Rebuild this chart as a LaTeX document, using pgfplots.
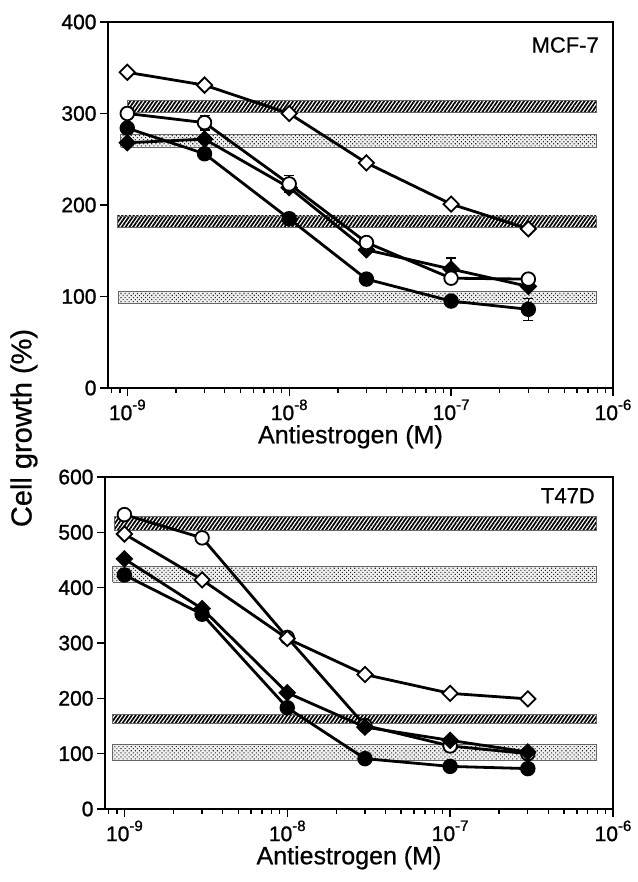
\documentclass[border=0pt]{standalone}
\usepackage{fontspec}
\setmainfont{Liberation Sans}[FakeBold=0.6]
\newfontfamily\tickfont{Liberation Sans}[FakeBold=1.2]
\usepackage{pgfplots}
\pgfplotsset{compat=1.18}
\usetikzlibrary{patterns.meta}

% bands
\tikzset{
  hatchband/.style={draw=black!60, line width=0.9pt,
    pattern={Lines[angle=55,distance=3.1pt,line width=1.7pt]}, pattern color=black},
  dotband/.style={draw=black!60, line width=0.9pt,
    preaction={fill=black!6},
    pattern={Dots[distance=2.9pt,angle=45,radius=0.75pt]}, pattern color=black!85},
}
\newcommand{\tl}[1]{10\raisebox{0.48em}{\fontsize{15}{15}\selectfont -#1}}

\pgfplotsset{
  every axis/.append style={
    scale only axis, xmode=log,
    xmin=7.6e-10, xmax=1e-6,
    xtick={1e-9,1e-8,1e-7,1e-6},
    xticklabels={\tl{9},\tl{8},\tl{7},\tl{6}},
    minor xtick={8e-10,9e-10,2e-9,3e-9,4e-9,5e-9,6e-9,7e-9,8e-9,9e-9,
                 2e-8,3e-8,4e-8,5e-8,6e-8,7e-8,8e-8,9e-8,
                 2e-7,3e-7,4e-7,5e-7,6e-7,7e-7,8e-7,9e-7},
    tick align=outside, xtick pos=bottom, ytick pos=left,
    major tick length=8pt, minor tick length=5pt,
    every tick/.style={black, line width=1.3pt},
    axis line style={line width=1.5pt},
    ticklabel style={font=\tickfont\fontsize{21}{25}\selectfont},
    /pgf/number format/assume math mode=true,
    xlabel={Antiestrogen (M)},
    xlabel style={font=\fontsize{25}{30}\selectfont, yshift=2pt, xshift=-10pt},
  },
}
\tikzset{
  fc/.style={black, line width=2.8pt, mark=*, mark size=6.8pt,
    mark options={solid, line width=1.8pt, fill=black}},
  oc/.style={black, line width=2.8pt, mark=*, mark size=6.8pt,
    mark options={solid, line width=1.8pt, fill=white}},
  fd/.style={black, line width=2.8pt, mark=square*, mark size=5.4pt,
    mark options={solid, line width=1.8pt, fill=black, rotate=45}},
  od/.style={black, line width=2.8pt, mark=square*, mark size=5.4pt,
    mark options={solid, line width=1.8pt, fill=white, rotate=45}},
}

\begin{document}
\begin{tikzpicture}
\useasboundingbox (0,0) rectangle (637pt,882pt);

% ---- MCF-7 ----
\begin{axis}[at={(108pt,494pt)}, anchor=south west,
  width=505pt, height=366pt, ymin=0, ymax=400, ytick={0,100,...,400}]
  \addplot[hatchband] coordinates {(1.0e-9,301) (7.9e-7,301) (7.9e-7,314) (1.0e-9,314) (1.0e-9,301)};
  \addplot[dotband] coordinates {(9.1e-10,263) (7.9e-7,263) (7.9e-7,277) (9.1e-10,277) (9.1e-10,263)};
  \addplot[hatchband] coordinates {(8.7e-10,175) (7.9e-7,175) (7.9e-7,188) (8.7e-10,188) (8.7e-10,175)};
  \addplot[dotband] coordinates {(8.8e-10,92) (7.9e-7,92) (7.9e-7,105) (8.8e-10,105) (8.8e-10,92)};
  % error bars
  \addplot[black, only marks, mark=none,
    error bars/.cd, y dir=both, y explicit,
    error bar style={line width=1.4pt},
    error mark options={rotate=90, mark size=5pt, line width=1.4pt}]
    coordinates {(3e-9,290) +- (0,8) (1e-8,223) +- (0,9) (3e-8,159) +- (0,5)
                 (1e-7,130) +- (0,12) (3e-7,86) +- (0,12) (3e-7,119) +- (0,4)};
  % filled circle
  \addplot[fc] coordinates {(1e-9,284) (3e-9,256) (1e-8,185) (3e-8,119) (1e-7,95) (3e-7,86)};
  % filled diamond
  \addplot[fd] coordinates {(1e-9,268) (3e-9,272) (1e-8,219) (3e-8,151) (1e-7,130) (3e-7,111)};
  % open circle
  \addplot[oc] coordinates {(1e-9,300) (3e-9,290) (1e-8,223) (3e-8,159) (1e-7,120) (3e-7,119)};
  % open diamond
  \addplot[od] coordinates {(1e-9,345) (3e-9,331) (1e-8,300) (3e-8,246) (1e-7,201) (3e-7,174)};
  \node[anchor=north east, font=\fontsize{22}{26}\selectfont, inner sep=0pt]
    at (rel axis cs:1,1) [xshift=-14pt, yshift=-15pt] {MCF-7};
\end{axis}

% ---- T47D ----
\begin{axis}[at={(105pt,73pt)}, anchor=south west,
  width=508pt, height=332pt, ymin=0, ymax=600, ytick={0,100,...,600}]
  \addplot[hatchband] coordinates {(8.7e-10,503) (7.9e-7,503) (7.9e-7,529) (8.7e-10,529) (8.7e-10,503)};
  \addplot[dotband] coordinates {(8.5e-10,410) (7.9e-7,410) (7.9e-7,439) (8.5e-10,439) (8.5e-10,410)};
  \addplot[hatchband] coordinates {(8.4e-10,154) (7.9e-7,154) (7.9e-7,170) (8.4e-10,170) (8.4e-10,154)};
  \addplot[dotband] coordinates {(8.5e-10,87) (7.9e-7,87) (7.9e-7,117) (8.5e-10,117) (8.5e-10,87)};
  % filled circle
  \addplot[fc] coordinates {(1e-9,423) (3e-9,352) (1e-8,183) (3e-8,91) (1e-7,77) (3e-7,73)};
  % open circle
  \addplot[oc] coordinates {(1e-9,532) (3e-9,490) (1e-8,310) (3e-8,151) (1e-7,114) (3e-7,100)};
  % filled diamond
  \addplot[fd] coordinates {(1e-9,452) (3e-9,362) (1e-8,210) (3e-8,148) (1e-7,124) (3e-7,103)};
  % open diamond
  \addplot[od] coordinates {(1e-9,497) (3e-9,414) (1e-8,308) (3e-8,243) (1e-7,209) (3e-7,199)};
  \node[anchor=north east, font=\fontsize{22}{26}\selectfont, inner sep=0pt]
    at (rel axis cs:1,1) [xshift=-18pt, yshift=-11pt] {T47D};
\end{axis}

\node[rotate=90, font=\fontsize{29}{34}\selectfont] at (24pt,454pt) {Cell growth (\%)};
\end{tikzpicture}
\end{document}
